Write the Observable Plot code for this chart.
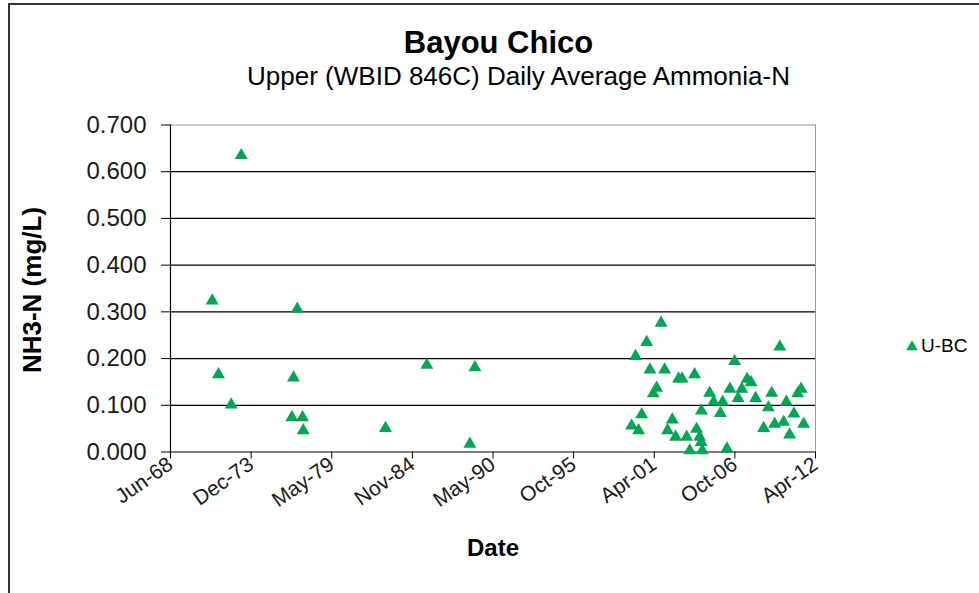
<!DOCTYPE html>
<html>
<head>
<meta charset="utf-8">
<script src="https://cdn.jsdelivr.net/npm/d3@7"></script>
<script src="https://cdn.jsdelivr.net/npm/@observablehq/plot@0.6"></script>
<style>
  html, body { margin: 0; padding: 0; background: #fff; }
  body { width: 979px; height: 593px; overflow: hidden; position: relative; font-family: "Liberation Sans", Arial, sans-serif; color: #000; }
  .frame { position: absolute; left: 8px; top: 3px; width: 1100px; height: 700px; border-left: 2px solid #333; border-top: 2px solid #333; box-sizing: border-box; }
  .abs { position: absolute; white-space: nowrap; line-height: 1; }
  #title { left: 0; width: 997px; text-align: center; top: 27px; font-size: 31px; font-weight: bold; }
  #subtitle { left: 0; width: 1037px; text-align: center; top: 63px; font-size: 26px; }
  #xlabel { left: 0; width: 986px; text-align: center; top: 536px; font-size: 24px; font-weight: bold; }
  #ylabel { left: 32px; top: 290px; font-size: 26px; font-weight: bold; transform: translate(-50%, -50%) rotate(-90deg); }
  #chart { position: absolute; left: 0; top: 100px; }
  #legend { left: 905px; top: 336px; font-size: 19px; display: flex; align-items: center; }
</style>
</head>
<body>
<div class="frame"></div>
<div id="title" class="abs">Bayou Chico</div>
<div id="subtitle" class="abs">Upper (WBID 846C) Daily Average Ammonia-N</div>
<div id="ylabel" class="abs">NH3-N (mg/L)</div>
<div id="xlabel" class="abs">Date</div>
<div id="chart"></div>
<div id="legend" class="abs"></div>
<script>
// ---- data ----
const seriesName = "U-BC";
const sampleDates = [
  "1971-04-11","1971-09-15","1972-07-26","1973-04-01","1976-09-07","1976-10-19","1977-01-19","1977-05-31","1977-06-17",
  "1983-01-18","1985-11-08","1988-10-10","1989-02-12",
  "1999-10-05","2000-01-12","2000-03-27","2000-06-10","2000-10-12",
  "2001-01-02","2001-03-27","2001-06-17","2001-10-06",
  "2002-01-01","2002-03-16","2002-07-10","2002-09-30","2002-12-13",
  "2003-03-10","2003-07-01","2003-09-17",
  "2004-01-15","2004-03-05","2004-05-19","2004-06-25","2004-07-02","2004-07-24",
  "2005-01-22","2005-05-01","2005-10-14","2005-12-10",
  "2006-03-27","2006-06-09","2006-10-04","2006-12-29",
  "2007-03-31","2007-08-10","2007-11-16",
  "2008-03-08","2008-09-22",
  "2009-01-18","2009-04-10","2009-06-23","2009-10-29",
  "2010-02-01","2010-04-09","2010-06-29","2010-10-14",
  "2011-01-14","2011-04-10","2011-06-12"
];
const ammoniaValues = [
  0.324,0.166,0.101,0.635,0.074,0.159,0.306,0.074,0.046,
  0.051,0.186,0.017,0.181,
  0.056,0.205,0.046,0.080,0.235,
  0.176,0.125,0.137,0.276,
  0.176,0.046,0.069,0.032,0.157,
  0.157,0.032,0.003,
  0.166,0.049,0.032,0.021,0.088,0.003,
  0.126,0.107,0.083,0.107,
  0.007,0.135,0.194,0.115,
  0.135,0.156,0.149,
  0.115,0.051,
  0.095,0.126,0.060,0.225,
  0.064,0.107,0.037,0.082,
  0.125,0.135,0.060
];
const xTickDates = ["1968-06-11","1973-12-02","1979-05-25","1984-11-14","1990-05-07","1995-10-28","2001-04-19","2006-10-10","2012-04-01"];
const yTickValues = [0, 0.1, 0.2, 0.3, 0.4, 0.5, 0.6, 0.7];
const gridValues = [0.1, 0.2, 0.3, 0.4, 0.5, 0.6];

// ---- build ----
const parse = d3.utcParse("%Y-%m-%d");
const data = sampleDates.map((d, i) => ({date: parse(d), value: ammoniaValues[i], series: seriesName}));
const xTicks = xTickDates.map(parse);
const xDomain = [xTicks[0], xTicks[xTicks.length - 1]];
const green = "#00a651";
const markerR = 4.8;

const chart = Plot.plot({
  width: 979,
  height: 493,
  marginLeft: 170,
  marginRight: 164,
  marginTop: 24.5,
  marginBottom: 141.5,
  style: {fontFamily: "'Liberation Sans', Arial, sans-serif", background: "transparent", overflow: "visible", color: "#000"},
  x: {type: "utc", domain: xDomain},
  y: {domain: [0, 0.7]},
  marks: [
    Plot.ruleY(gridValues, {stroke: "#000", strokeWidth: 1.2}),
    Plot.ruleY([0.7], {stroke: "#999", strokeWidth: 1}),
    Plot.ruleX([xDomain[1]], {stroke: "#999", strokeWidth: 1}),
    Plot.ruleX([xDomain[0]], {stroke: "#000", strokeWidth: 1.2}),
    Plot.ruleY([0], {stroke: "#000", strokeWidth: 1.2}),
    Plot.axisY({ticks: yTickValues, tickFormat: d3.format(".3f"), tickSize: 9, tickPadding: 15, fontSize: 24, label: null, stroke: "#000", fill: "#1a1a1a"}),
    Plot.axisX({ticks: xTicks, tickFormat: d3.utcFormat("%b-%y"), tickRotate: -35, tickSize: 7, tickPadding: 3, fontSize: 21, label: null, stroke: "#000", fill: "#1a1a1a"}),
    Plot.dot(data, {x: "date", y: "value", symbol: "triangle", r: markerR, fill: green, stroke: "none"})
  ]
});
document.getElementById("chart").appendChild(chart);

// legend
const legend = document.getElementById("legend");
const sw = d3.create("svg").attr("width", 14).attr("height", 14).style("margin-right", "2px");
sw.append("path")
  .attr("transform", "translate(7,8)")
  .attr("d", d3.symbol(d3.symbolTriangle, 4.3 * 4.3 * Math.PI)())
  .attr("fill", green);
legend.appendChild(sw.node());
const lt = document.createElement("span");
lt.textContent = seriesName;
legend.appendChild(lt);
</script>
</body>
</html>
